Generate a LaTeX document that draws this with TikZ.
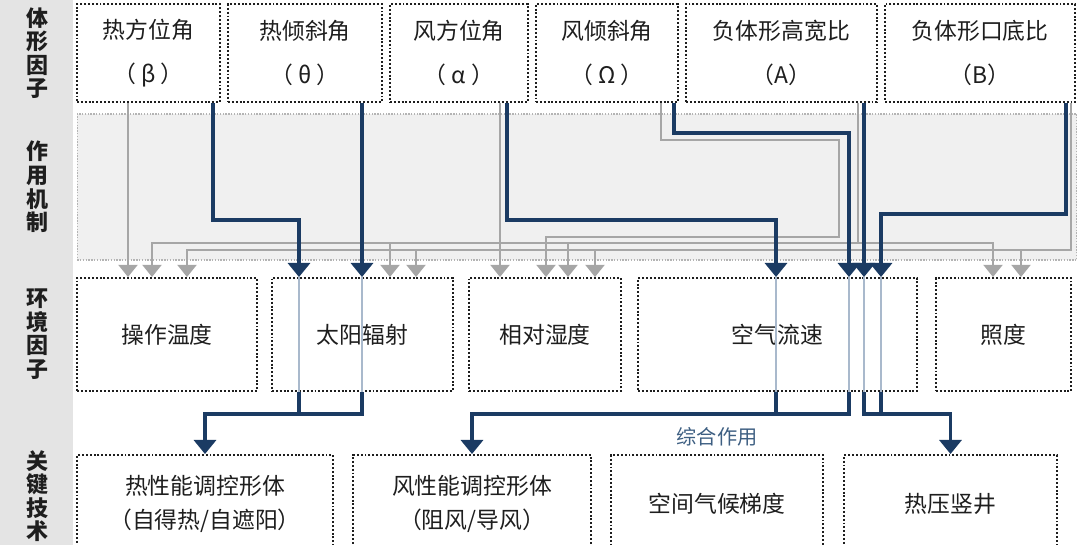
\documentclass[tikz,border=0pt]{standalone}
\usepackage{fontspec}
\setmainfont{Noto Sans CJK SC}
\usetikzlibrary{positioning, arrows.meta}
\definecolor{navyLine}{HTML}{1B3B63}
\definecolor{paleLine}{HTML}{A9B9CC}
\definecolor{greyLine}{HTML}{A6A6A6}
\definecolor{bandBg}{HTML}{F0F0F0}
\definecolor{bandEdge}{HTML}{B4B4B4}
\definecolor{sideBg}{HTML}{E4E4E4}
\definecolor{inkDark}{HTML}{1E1E1E}
\definecolor{noteBlue}{HTML}{3E5F82}

\begin{document}
\begin{tikzpicture}[
  x=0.02cm, y=-0.02cm,
  dotbox/.style={rectangle, draw=inkDark, line width=1.1pt, dash pattern=on 1.1pt off 1.1pt,
                 fill=white, inner sep=0pt, align=center, text=inkDark},
  factor/.style={dotbox, minimum height=1.96cm, font=\fontsize{13}{25}\selectfont},
  envfac/.style={dotbox, minimum height=2.26cm, font=\fontsize{13}{19}\selectfont},
  tech/.style={dotbox, minimum height=1.96cm, font=\fontsize{13}{19}\selectfont},
  side/.style={align=center, font=\fontsize{12.5}{13.4}\selectfont\bfseries, text=inkDark},
  band/.style={rectangle, draw=bandEdge, line width=0.6pt, dash pattern=on 0.8pt off 0.8pt, fill=bandBg},
  strong/.style={line width=1.9pt, draw=navyLine},
  strongarrow/.style={strong, -{Triangle[width=12.5pt, length=8pt]}},
  through/.style={line width=1.7pt, draw=paleLine},
  weak/.style={line width=0.95pt, draw=greyLine},
  weakarrow/.style={weak, -{Triangle[width=11pt, length=7pt]}}
]
\useasboundingbox (0,0) rectangle (1080,545);
\fill[sideBg] (0,0) rectangle (73,545);
\node[band, minimum width=20cm, minimum height=2.92cm] (mech) at (577,187) {};
\node[side] (s1) at (37,53) {体\\形\\因\\子};
\node[side] (s2) at (37,187) {作\\用\\机\\制};
\node[side] (s3) at (37,334) {环\\境\\因\\子};
\node[side] (s4) at (37,496) {关\\键\\技\\术};

\node[factor, minimum width=2.86cm] (t1) at (148.5,53) {热方位角\\（ β ）};
\node[factor, minimum width=3.08cm] (t2) at (305,53) {热倾斜角\\（ θ ）};
\node[factor, minimum width=2.76cm] (t3) at (459,53) {风方位角\\（ α ）};
\node[factor, minimum width=2.84cm] (t4) at (607,53) {风倾斜角\\（ Ω ）};
\node[factor, minimum width=3.82cm] (t5) at (781.5,53) {负体形高宽比\\（A）};
\node[factor, minimum width=3.80cm] (t6) at (980,53) {负体形口底比\\（B）};

\node[envfac, minimum width=3.6cm] (e1) at (167,334.5) {操作温度};
\node[envfac, minimum width=3.62cm] (e2) at (362.5,334.5) {太阳辐射};
\node[envfac, minimum width=3.04cm] (e3) at (545,334.5) {相对湿度};
\node[envfac, minimum width=5.58cm] (e4) at (777.5,334.5) {空气流速};
\node[envfac, minimum width=2.7cm] (e5) at (1003.5,334.5) {照度};

\node[tech, minimum width=5.12cm] (k1) at (205,504) {热性能调控形体\\（自得热/自遮阳）};
\node[tech, minimum width=4.76cm] (k2) at (472,504) {风性能调控形体\\（阻风/导风）};
\node[tech, minimum width=4.24cm] (k3) at (717,504) {空间气候梯度};
\node[tech, minimum width=4.26cm] (k4) at (950.5,504) {热压竖井};
\node[font=\fontsize{11.5}{12}\selectfont, text=noteBlue, above=1pt of k3] (mix) {综合作用};

\draw[weakarrow] (t1.south -| 128,0) -- (e1.north -| 128,0);
\draw[weakarrow] (t3.south -| 500,0) -- (e3.north -| 500,0);
\draw[weakarrow] (t4.south -| 661,0) |- (839,140) |- (546,237) -- (e3.north -| 546,0);
\draw[weakarrow] (t5.south -| 858,0) |- (152,243) -- (e1.north -| 152,0);
\draw[weakarrow] (858,243) -| (e5.north -| 993,0);
\foreach \xx/\dst in {390/e2, 568/e3}
  \draw[weakarrow] (\xx,243) -- (\dst.north -| \xx,0);
\draw[weakarrow] (t6.south -| 1071,0) |- (187,250) -- (e1.north -| 187,0);
\foreach \xx/\dst in {416/e2, 595/e3, 1021/e5}
  \draw[weakarrow] (\xx,250) -- (\dst.north -| \xx,0);

\foreach \xx/\src in {299/e2, 362/e2, 776/e4, 849/e4, 864/e4, 881/e4}
  \draw[through] (\src.north -| \xx,0) -- (\src.south -| \xx,0);

\draw[strongarrow] (t1.south -| 213,0) |- (299,220) -- (e2.north -| 299,0);
\draw[strongarrow] (t2.south -| 362,0) -- (e2.north -| 362,0);
\draw[strongarrow] (t3.south -| 507,0) |- (776,220) -- (e4.north -| 776,0);
\draw[strongarrow] (t4.south -| 674,0) |- (849,133) -- (e4.north -| 849,0);
\draw[strongarrow] (t5.south -| 864,0) -- (e4.north -| 864,0);
\draw[strongarrow] (t6.south -| 1066,0) |- (881,214) -- (e4.north -| 881,0);

\draw[strong] (e2.south -| 299,0) -- (299,414);
\draw[strongarrow] (e2.south -| 362,0) -- (362,414) -| (k1.north);
\draw[strong] (e4.south -| 776,0) -- (776,414);
\draw[strongarrow] (e4.south -| 849,0) -- (849,414) -| (k2.north);
\draw[strongarrow] (e4.south -| 864,0) -- (864,414) -| (k4.north);
\draw[strong] (e4.south -| 881,0) -- (881,414);
\end{tikzpicture}
\end{document}
